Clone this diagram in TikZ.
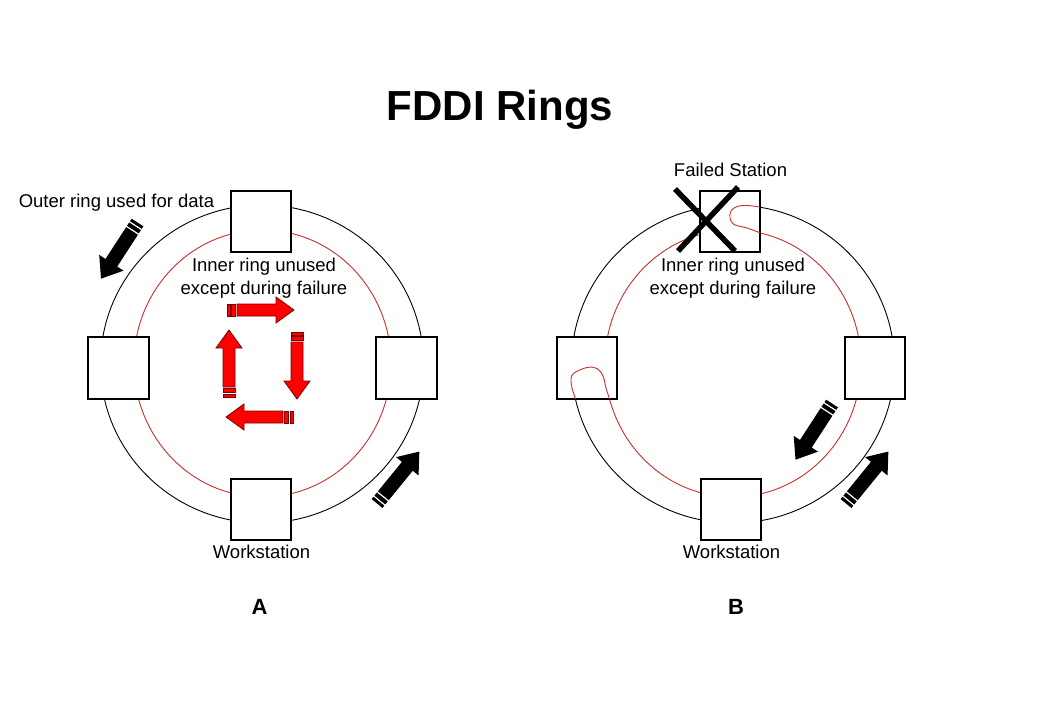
\documentclass[tikz,border=0pt]{standalone}
\usepackage{fontspec}
\setmainfont{Liberation Sans}
\definecolor{ringred}{RGB}{205,45,45}
\definecolor{arrred}{RGB}{255,0,0}
\definecolor{arrline}{RGB}{120,0,0}
\tikzset{
  outerring/.style={draw=black, line width=0.9pt},
  innerring/.style={draw=ringred, line width=0.9pt},
  station/.style={draw=black, fill=white, line width=1.1pt},
  lbl/.style={font=\fontsize{18.5}{23}\selectfont, inner sep=0pt, align=center},
  pics/striparrow/.style={code={
    \path[pic actions] (0,-6) rectangle (3,6);
    \path[pic actions] (4.5,-6) rectangle (8.5,6);
    \path[pic actions] (10,-6) -- (49,-6) -- (49,-13) -- (67,0) -- (49,13) -- (49,6) -- (10,6) -- cycle;
  }},
  pics/bigarrow/.style={code={
    \path[pic actions] (0,-7) rectangle (3,7);
    \path[pic actions] (4.5,-7) rectangle (8.5,7);
    \path[pic actions] (10,-7) -- (48,-7) -- (48,-14.5) -- (67,0) -- (48,14.5) -- (48,7) -- (10,7) -- cycle;
  }},
  redarrow/.style={fill=arrred, draw=arrline, line width=0.8pt},
  blackarrow/.style={fill=black}
}
\begin{document}
\begin{tikzpicture}[x=1pt,y=-1pt]
\useasboundingbox (0,0) rectangle (1040,720);

% rings
\draw[outerring] (262,364) ellipse [x radius=161.5pt, y radius=159pt];
\draw[innerring] (262.5,363.5) ellipse [x radius=128.5pt, y radius=133.5pt];
\draw[outerring] (733,364) ellipse [x radius=161.5pt, y radius=159pt];
\draw[innerring] (733,363.5) ellipse [x radius=128pt, y radius=133.5pt];

% stations A
\draw[station] (231,191) rectangle (291,252);
\draw[station] (88,337) rectangle (149,399);
\draw[station] (376,337) rectangle (437,399);
\draw[station] (231,479) rectangle (291,540);
% stations B
\draw[station] (700,191) rectangle (760,252);
\draw[station] (557,337) rectangle (617,399);
\draw[station] (845,337) rectangle (905,399);
\draw[station] (701,479) rectangle (761,540);

% wrap loops in B
\draw[innerring] plot[smooth, tension=0.6] coordinates {(760,232.8) (747,228) (734,224.5) (730,218) (731,211) (737,206.5) (747,205.5) (760,207)};
\draw[innerring] plot[smooth, tension=0.6] coordinates {(609.6,399) (606,388) (603,376) (597,368.5) (587,367.5) (574,373) (571,379) (572,388) (575.5,399)};

% failed station cross
\draw[line width=5.5pt] (675,189) -- (735,251);
\draw[line width=5.5pt] (738,187) -- (678,251);

% black arrows
\pic[blackarrow, rotate=237] at (137.5,222.5) {bigarrow};
\pic[blackarrow, rotate=50.8] at (377,503.5) {bigarrow};
\pic[blackarrow, rotate=237] at (832,403.5) {bigarrow};
\pic[blackarrow, rotate=50.8] at (846,503.5) {bigarrow};

% red arrows
\pic[redarrow, rotate=0] at (227,310) {striparrow};
\pic[redarrow, rotate=-90] at (297,332) {striparrow};
\pic[redarrow, rotate=180] at (293,417) {striparrow};
\pic[redarrow, rotate=90] at (229,397) {striparrow};

% texts
\node[font=\fontsize{42}{48}\selectfont\bfseries, inner sep=0pt] (title) at (500,110) {FDDI Rings};
\node[lbl] (outer) at (116.5,203) {Outer ring used for data};
\node[lbl] (innerA) at (264,278.5) {Inner ring unused\\except during failure};
\node[lbl] (innerB) at (733,278.5) {Inner ring unused\\except during failure};
\node[lbl] (failed) at (730.5,170) {Failed Station};
\node[lbl] (wsA) at (261.5,552) {Workstation};
\node[lbl] (wsB) at (731.5,552) {Workstation};
\node[font=\fontsize{22}{26}\selectfont\bfseries, inner sep=0pt] (labA) at (259.5,607) {A};
\node[font=\fontsize{22}{26}\selectfont\bfseries, inner sep=0pt] (labB) at (736,607) {B};
\end{tikzpicture}
\end{document}
